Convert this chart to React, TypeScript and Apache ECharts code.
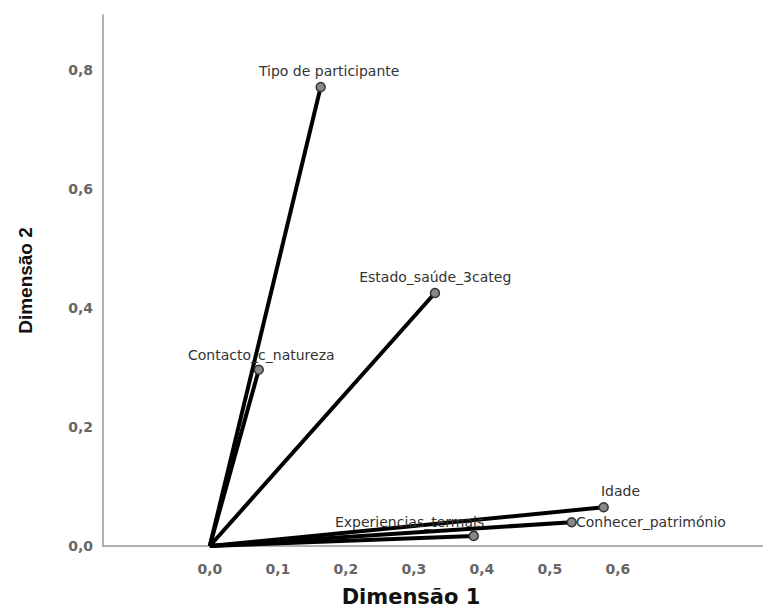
import React, { useEffect, useRef } from "react";
import * as echarts from "echarts";

const variables = [
  "Tipo de participante",
  "Estado_saúde_3categ",
  "Contacto_c_natureza",
  "Idade",
  "Conhecer_património",
  "Experiencias_termais",
];
const dimensao1 = [0.163, 0.331, 0.072, 0.579, 0.532, 0.388];
const dimensao2 = [0.771, 0.425, 0.296, 0.065, 0.04, 0.017];
const xTicks = [0, 0.1, 0.2, 0.3, 0.4, 0.5, 0.6];
const yTicks = [0, 0.2, 0.4, 0.6, 0.8];

// label placement (pixel offsets relative to the point marker)
const labelOffsets: [number, number][] = [
  [-67, -16],
  [-81, -16],
  [-76, -15],
  [-8, -16],
  [-1, 0],
  [-144, -14],
];

const fmt = (v: number) => v.toFixed(1).replace(".", ",");

export default function App() {
  const ref = useRef<HTMLDivElement>(null);
  useEffect(() => {
    if (!ref.current) return;
    const chart = echarts.init(ref.current, null, { renderer: "svg" });
    const series = variables.map((name, i) => ({
      type: "line",
      name,
      data: [
        { value: [0, 0], symbol: "none", label: { show: false } },
        {
          value: [dimensao1[i], dimensao2[i]],
          label: {
            show: true,
            position: "right",
            distance: 0,
            offset: labelOffsets[i],
            formatter: name,
            fontFamily: "DejaVu Sans",
            fontSize: 14,
            color: "#333",
          },
        },
      ],
      symbol: "circle",
      symbolSize: 9,
      showSymbol: true,
      lineStyle: { color: "#000", width: 4 },
      itemStyle: { color: "#888", borderColor: "#333", borderWidth: 1.5 },
      z: 3,
    }));
    chart.setOption({
      animation: false,
      backgroundColor: "#fff",
      grid: { left: 103, right: 0, top: 15, bottom: 60 },
      xAxis: {
        type: "value",
        min: -0.157,
        max: 0.825,
        name: "Dimensão 1",
        nameLocation: "middle",
        nameGap: 40,
        nameTextStyle: {
          fontFamily: "DejaVu Sans",
          fontWeight: "bold",
          fontSize: 21,
          color: "#111",
          padding: [0, 52, 0, 0],
        },
        axisLine: { show: true, onZero: false, lineStyle: { color: "#999", width: 1.5 } },
        axisTick: { show: false },
        splitLine: { show: false },
        axisLabel: {
          customValues: xTicks,
          formatter: (v: number) => fmt(v),
          fontFamily: "DejaVu Sans",
          fontWeight: "bold",
          fontSize: 14,
          color: "#666",
          margin: 16,
        },
      },
      yAxis: {
        type: "value",
        min: 0,
        max: 0.892,
        name: "Dimensão 2",
        nameLocation: "middle",
        nameGap: 68,
        nameRotate: 90,
        nameTextStyle: { fontFamily: "Liberation Sans", fontWeight: "bold", fontSize: 19, color: "#111" },
        axisLine: { show: true, onZero: false, lineStyle: { color: "#999", width: 1.5 } },
        axisTick: { show: false },
        splitLine: { show: false },
        axisLabel: {
          customValues: yTicks,
          formatter: (v: number) => fmt(v),
          fontFamily: "DejaVu Sans",
          fontWeight: "bold",
          fontSize: 14,
          color: "#666",
          margin: 10,
        },
      },
      series,
    });
    return () => chart.dispose();
  }, []);
  return <div ref={ref} style={{ width: 771, height: 612, margin: -8 }} />;
}
